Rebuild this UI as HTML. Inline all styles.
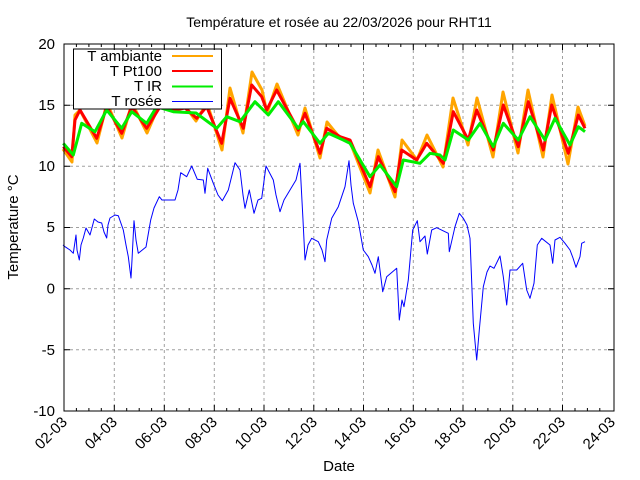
<!DOCTYPE html>
<html><head><meta charset="utf-8"><style>body{margin:0;background:#fff}svg{display:block}text{font-family:"Liberation Sans",sans-serif;font-size:15px;fill:#000}</style></head><body>
<svg width="640" height="480" xmlns="http://www.w3.org/2000/svg">
<rect width="640" height="480" fill="#fff"/>
<g stroke="#a0a0a0" stroke-dasharray="3,3" stroke-width="1">
<line x1="114.3" y1="44" x2="114.3" y2="411"/><line x1="164.3" y1="44" x2="164.3" y2="411"/><line x1="214.3" y1="44" x2="214.3" y2="411"/><line x1="264" y1="44" x2="264" y2="411"/><line x1="313.8" y1="44" x2="313.8" y2="411"/><line x1="363.5" y1="44" x2="363.5" y2="411"/><line x1="413.3" y1="44" x2="413.3" y2="411"/><line x1="463" y1="44" x2="463" y2="411"/><line x1="512.8" y1="44" x2="512.8" y2="411"/><line x1="562.5" y1="44" x2="562.5" y2="411"/>
<line x1="64" y1="105.2" x2="614" y2="105.2"/><line x1="64" y1="166.3" x2="614" y2="166.3"/><line x1="64" y1="227.5" x2="614" y2="227.5"/><line x1="64" y1="288.7" x2="614" y2="288.7"/><line x1="64" y1="349.8" x2="614" y2="349.8"/>
</g>
<g fill="none" stroke-linejoin="round">
<polyline stroke="#0000ff" stroke-width="1" points="63,245 65,246.7 70,250 73.3,253.3 76,235 77,250 79.3,260 81,245 83.3,238 86,228 90,235 94.3,219 98,222 101.7,223 104,232 106.7,238 108,225 110,218 115,215 118.3,215.7 123.3,230 126,245 128.3,256.7 131,278 132,260 134,220.7 136,240 138.3,253.3 146,247 150.7,220 154,208 159.3,196.7 162,200 166,200 175,200 178,190 180.7,172.7 186.7,176.7 191.7,166 197.3,179.3 203.3,180 205,193.3 207.7,168.3 213.3,183.3 218,195 222.3,200.7 228.3,190 232,175 235,162.7 240,170 243,195 245,208.3 249.3,190 254,213.3 258,200 261.7,198.3 266,166 273.3,180 276,195 280,211.7 284,200 290,190 296,180 300,163.3 303,220 305,260 308,245 311.7,238.3 318.3,241.7 322,250 325,261.7 326.7,240 331.7,218.3 338.3,206.7 345,186.7 349,160.7 351,185 353.3,203.3 358.3,221.7 363.3,250 368.3,256.7 372,265 375,273.3 378.3,256.7 382.7,291.7 386.7,276.7 396.7,268.3 399.3,320 402,300 404,306.7 408.3,280 412.7,230 417.3,220.7 420,241.7 425,236 427.3,254 431.7,230 436.7,227.7 448.3,233.3 449.3,251.7 455,226.7 459.3,213.3 463.3,218.3 467,225 470,238.3 473.3,323.3 476.7,360 479.3,330 483.3,286.7 487,272 490,266 494,268.3 500,256 503.3,276.7 506.7,305 510,270 516.7,270 522.7,263.3 526.7,290 530,298.3 534,283.3 537.3,245 541.7,238.3 550,245 552.7,263.3 555,240 560,237.3 565,243.3 570,250 573,258 576,267.3 580,256.7 581.7,243.3 585,241.7"/>
<polyline stroke="#ffa500" stroke-width="3" points="63,149 72,162 75,115 80,110 97,143 107,103 122,138 132,103 147,133 160,103 175,110 185,106 196,121 207,103 222,150 230,88 243,133 252,72 262,90 267,113 277,84 298,135 305,108 320,158 327,122 340,138 350,142 370,193 378,150 395,197 402,140 417,160 427,135 443,167 453,98 468,145 477,98 493,157 503,92 518,153 528,90 543,157 552,95 568,164 578,107 585,126"/>
<polyline stroke="#ff0000" stroke-width="3" points="63.3,146.7 71.7,156.7 75,120 80,110 96.7,138.3 106.7,106.7 121.7,133.3 131.7,106.7 146.7,128.3 160,106.7 175,110 185,108 196.7,118.3 206.7,106.7 221.7,143.3 230,98.3 243.3,128.3 251.7,85 261.7,96.7 266.7,110 276.7,90 298.3,130 305,113.3 320,153.3 326.7,128.3 340,136.7 350,140 370,186.7 378.3,156.7 395,191.7 401.7,150 416.7,160 426.7,143.3 443.3,163.3 453.3,111.7 468.3,140 476.7,110 493.3,150 503.3,105 518.3,146.7 528.3,101.7 543.3,150 551.7,105 568.3,153.3 578.3,115 585,128.3"/>
<polyline stroke="#00ee00" stroke-width="3" points="63.3,143.3 73.3,155 81.7,123.3 95,131.7 106.7,110 121.7,128.3 131.7,111.7 146.7,123.3 156.7,106.7 173.3,111.7 196,113 216.7,128.3 226.7,116.7 240,121.7 255,101.7 268.3,115 278.3,101.7 298.3,128.3 303.3,121.7 320,143.3 328.3,133.3 343.3,140 350,143.3 370,176.7 380,165 396.7,186.7 403.3,160 420,163.3 430,153.3 440,155 445,160 453.3,130 468.3,140 480,123.3 493.3,146.7 503.3,123.3 518.3,140 530,116.7 545,140 555,118.3 570,145 578.3,126.7 585,131.7"/>
</g>
<rect x="73.5" y="49" width="148" height="60" fill="#fff" stroke="#000" stroke-width="1"/>
<text x="162" y="61" text-anchor="end">T ambiante</text><line x1="172" y1="56" x2="213" y2="56" stroke="#ffa500" stroke-width="2"/>
<text x="162" y="76" text-anchor="end">T Pt100</text><line x1="172" y1="71" x2="213" y2="71" stroke="#ff0000" stroke-width="2"/>
<text x="162" y="91" text-anchor="end">T IR</text><line x1="172" y1="86.5" x2="213" y2="86.5" stroke="#00ee00" stroke-width="2"/>
<text x="162" y="106" text-anchor="end">T rosée</text><line x1="172" y1="101.5" x2="213" y2="101.5" stroke="#0000ff" stroke-width="1"/>
<rect x="64" y="44" width="550" height="367" fill="none" stroke="#000" stroke-width="1"/>
<g stroke="#000" stroke-width="1">
<path d="M64 105.2h6M64 166.3h6M64 227.5h6M64 288.7h6M64 349.8h6M614 105.2h-6M614 166.3h-6M614 227.5h-6M614 288.7h-6M614 349.8h-6"/>
<path d="M76.4 411v-3M88.9 411v-3M101.3 411v-3M126.7 411v-3M139.2 411v-3M151.6 411v-3M176.7 411v-3M189.2 411v-3M201.6 411v-3M226.7 411v-3M239.2 411v-3M251.6 411v-3M276.4 411v-3M288.9 411v-3M301.3 411v-3M326.2 411v-3M338.6 411v-3M351 411v-3M376 411v-3M388.4 411v-3M400.8 411v-3M425.7 411v-3M438.1 411v-3M450.5 411v-3M475.4 411v-3M487.9 411v-3M500.3 411v-3M525.2 411v-3M537.6 411v-3M550 411v-3M575 411v-3M587.4 411v-3M599.8 411v-3"/>
<path d="M76.4 44v3M88.9 44v3M101.3 44v3M126.7 44v3M139.2 44v3M151.6 44v3M176.7 44v3M189.2 44v3M201.6 44v3M226.7 44v3M239.2 44v3M251.6 44v3M276.4 44v3M288.9 44v3M301.3 44v3M326.2 44v3M338.6 44v3M351 44v3M376 44v3M388.4 44v3M400.8 44v3M425.7 44v3M438.1 44v3M450.5 44v3M475.4 44v3M487.9 44v3M500.3 44v3M525.2 44v3M537.6 44v3M550 44v3M575 44v3M587.4 44v3M599.8 44v3"/>
<path d="M114.3 411v-6M164.3 411v-6M214.3 411v-6M264 411v-6M313.8 411v-6M363.5 411v-6M413.3 411v-6M463 411v-6M512.8 411v-6M562.5 411v-6M114.3 44v6M164.3 44v6M214.3 44v6M264 44v6M313.8 44v6M363.5 44v6M413.3 44v6M463 44v6M512.8 44v6M562.5 44v6"/>
</g>
<g text-anchor="end">
<text x="55" y="49">20</text><text x="55" y="110">15</text><text x="55" y="171">10</text><text x="55" y="232">5</text><text x="55" y="293.5">0</text><text x="55" y="355">-5</text><text x="55" y="416">-10</text>
</g>
<g text-anchor="end">
<text transform="translate(68,423) rotate(-45)">02-03</text>
<text transform="translate(118,423) rotate(-45)">04-03</text>
<text transform="translate(168,423) rotate(-45)">06-03</text>
<text transform="translate(218,423) rotate(-45)">08-03</text>
<text transform="translate(268,423) rotate(-45)">10-03</text>
<text transform="translate(318,423) rotate(-45)">12-03</text>
<text transform="translate(367,423) rotate(-45)">14-03</text>
<text transform="translate(417,423) rotate(-45)">16-03</text>
<text transform="translate(467,423) rotate(-45)">18-03</text>
<text transform="translate(517,423) rotate(-45)">20-03</text>
<text transform="translate(566,423) rotate(-45)">22-03</text>
<text transform="translate(616,423) rotate(-45)">24-03</text>
</g>
<text x="339" y="471" text-anchor="middle">Date</text>
<text transform="translate(18,227) rotate(-90)" text-anchor="middle">Temperature °C</text>
<text x="339" y="27" text-anchor="middle" style="font-size:14px">Température et rosée au 22/03/2026 pour RHT11</text>
</svg>
</body></html>
